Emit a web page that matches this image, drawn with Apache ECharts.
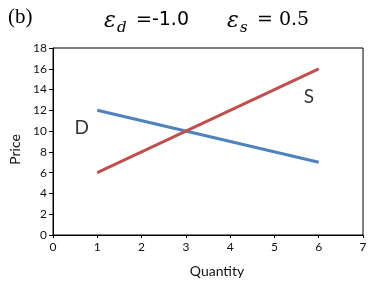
<!DOCTYPE html>
<html><head><meta charset="utf-8">
<script src="https://cdn.jsdelivr.net/npm/echarts@6/dist/echarts.min.js"></script>
<style>html,body{margin:0;padding:0;background:#fff}#c{width:374px;height:290px}</style>
</head><body><div id="c"></div>
<script>
const demandX = [1, 6];
const demandY = [12, 7];
const supplyX = [1, 6];
const supplyY = [6, 16];
const xTicks = [0, 1, 2, 3, 4, 5, 6, 7];
const yTicks = [0, 2, 4, 6, 8, 10, 12, 14, 16, 18];
const labelD = ['D', 0.65, 10.3];
const labelS = ['S', 5.78, 13.3];

const chart = echarts.init(document.getElementById('c'), null, {renderer: 'canvas'});
const tickFont = {fontFamily: 'Lato', fontSize: 12, color: '#111'};
chart.setOption({
  animation: false,
  grid: {left: 53, right: 11, top: 48, bottom: 55, show: true, borderColor: '#000', borderWidth: 1},
  xAxis: {
    type: 'value', min: xTicks[0], max: xTicks[xTicks.length - 1], interval: 1,
    name: 'Quantity', nameLocation: 'middle', nameGap: 29,
    nameTextStyle: {fontFamily: 'Lato', fontSize: 14, color: '#111', padding: [0, 0, 0, 18]},
    axisLine: {lineStyle: {color: '#000', width: 1}},
    axisTick: {show: true, length: 3, lineStyle: {color: '#000'}},
    axisLabel: Object.assign({margin: 6}, tickFont),
    splitLine: {show: false}
  },
  yAxis: {
    type: 'value', min: yTicks[0], max: yTicks[yTicks.length - 1], interval: 2,
    name: 'Price', nameLocation: 'middle', nameGap: 30,
    nameTextStyle: {fontFamily: 'Lato', fontSize: 14, color: '#111', padding: [0, 16, 0, 0]},
    axisLine: {show: true, lineStyle: {color: '#000', width: 1}},
    axisTick: {show: true, length: 4, lineStyle: {color: '#000'}},
    axisLabel: Object.assign({margin: 6}, tickFont),
    splitLine: {show: false}
  },
  series: [
    {type: 'line', data: demandX.map((x, i) => [x, demandY[i]]), symbol: 'none',
     lineStyle: {color: '#4F81BD', width: 3}},
    {type: 'line', data: supplyX.map((x, i) => [x, supplyY[i]]), symbol: 'none',
     lineStyle: {color: '#C0504D', width: 3}},
    {type: 'scatter', symbolSize: 0, data: [labelD, labelS].map(l => ({value: [l[1], l[2]], name: l[0]})),
     label: {show: true, position: 'inside', formatter: p => p.name, fontFamily: 'Lato', fontSize: 19, color: '#000'}}
  ],
  graphic: [
    {type: 'text', left: 8, top: 7, style: {text: '(b)', font: '21px "Liberation Serif"', fill: '#000'}},
    {type: 'text', left: 104, top: 10, style: {text: 'ε', font: 'italic 22px "DejaVu Serif"', fill: '#000'}},
    {type: 'text', left: 117, top: 21, style: {text: 'd', font: 'italic 15px "DejaVu Serif"', fill: '#000'}},
    {type: 'text', left: 136, top: 11, style: {text: '=-1.0', font: '19px "DejaVu Sans"', fill: '#000'}},
    {type: 'text', left: 227, top: 10, style: {text: 'ε', font: 'italic 22px "DejaVu Serif"', fill: '#000'}},
    {type: 'text', left: 240, top: 21, style: {text: 's', font: 'italic 15px "DejaVu Serif"', fill: '#000'}},
    {type: 'text', left: 257, top: 11, style: {text: '= 0.5', font: '19px "DejaVu Serif"', fill: '#000'}}
  ]
});
</script></body></html>
